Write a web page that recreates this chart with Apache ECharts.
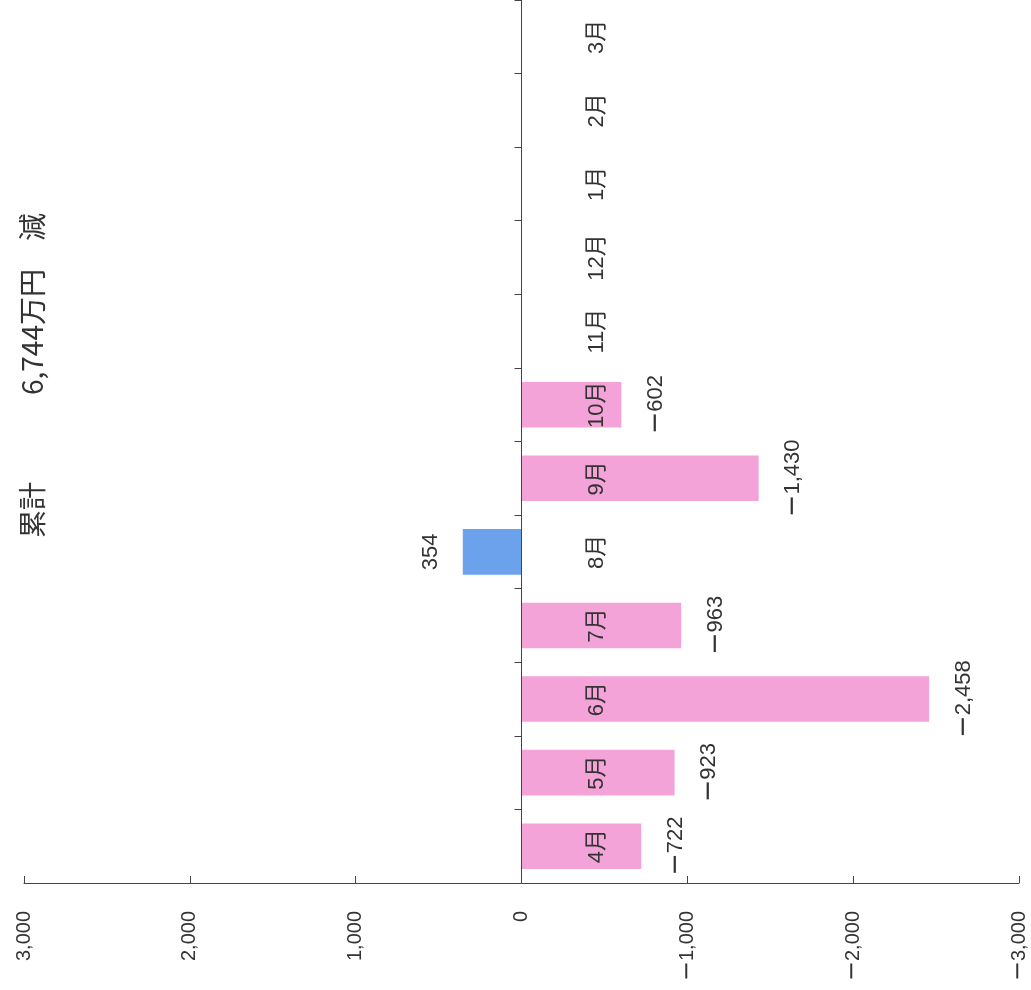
<!DOCTYPE html>
<html><head><meta charset="utf-8">
<script src="https://cdn.jsdelivr.net/npm/echarts@6/dist/echarts.min.js"></script>
<style>html,body{margin:0;padding:0;background:#fff}#c{width:1031px;height:990px}</style>
</head><body><div id="c"></div>
<script>
// ---- data ----
const months = ['4月','5月','6月','7月','8月','9月','10月','11月','12月','1月','2月','3月'];
const diffs = [-722, -923, -2458, -963, 354, -1430, -602, null, null, null, null, null];
const axisMin = -3000;
const axisMax = 3000;
const axisStep = 1000;
const totalLabel = '累計';
const totalText = '6,744万円\u3000減';

// ---- helpers ----
const FONT = "'Liberation Sans','Noto Sans CJK JP',sans-serif";
const MINUS_FONT = "'DejaVu Sans'";
const CJK = "'Noto Sans CJK JP'";
const TEXT = '#333333';
const LINE = '#444444';
const PINK = '#F3A3D7';
const BLUE = '#6CA2EC';
function fmtRich(v){
  const s = Math.abs(v).toLocaleString('en-US');
  return v < 0 ? '{m|\u2212}{n|' + s + '}' : '{n|' + s + '}';
}
function richFor(size){
  return {
    m: { fontFamily: MINUS_FONT, fontSize: Math.round(size * 1.22), color: TEXT },
    n: { fontFamily: FONT, fontSize: size, color: TEXT }
  };
}

const seriesData = diffs.map(v => v == null ? '-' : {
  value: v,
  itemStyle: { color: v < 0 ? PINK : BLUE },
  label: { position: v < 0 ? 'right' : 'left', align: 'center', verticalAlign: v < 0 ? 'top' : 'bottom' }
});

const chart = echarts.init(document.getElementById('c'), null, {renderer: 'canvas'});
chart.setOption({
  animation: false,
  backgroundColor: '#ffffff',
  grid: { left: 24, right: 12, top: 0, bottom: 107, containLabel: false, outerBoundsMode: 'none' },
  xAxis: {
    type: 'value', inverse: true, min: axisMin, max: axisMax, interval: axisStep,
    axisLine: { show: true, onZero: false, lineStyle: { color: LINE, width: 1 } },
    axisTick: { show: true, inside: true, length: 7, lineStyle: { color: LINE, width: 1 } },
    splitLine: { show: false },
    axisLabel: { rotate: 90, margin: 28, fontSize: 20, color: TEXT, fontFamily: FONT, formatter: fmtRich,
      rich: richFor(20) }
  },
  yAxis: {
    type: 'category', data: months, z: 5,
    axisLine: { show: true, onZero: true, lineStyle: { color: LINE, width: 1 } },
    axisTick: { show: true, length: 7, lineStyle: { color: LINE, width: 1 } },
    splitLine: { show: false },
    axisLabel: { inside: true, rotate: 90, margin: 562, fontSize: 22, color: TEXT, fontFamily: FONT, interval: 0 }
  },
  series: [{
    type: 'bar', data: seriesData, barWidth: '62%',
    label: { show: true, rotate: 90, distance: 21, fontSize: 22, color: TEXT, fontFamily: FONT,
      formatter: p => fmtRich(p.value),
      rich: richFor(22) }
  }],
  graphic: [
    { type: 'text', x: 18, y: 538, rotation: Math.PI / 2,
      style: { text: totalLabel, fontSize: 28, fontFamily: CJK, fill: TEXT, align: 'left', verticalAlign: 'top', textAlign: 'left', textVerticalAlign: 'top' } },
    { type: 'text', x: 18, y: 395, rotation: Math.PI / 2,
      style: { text: totalText, fontSize: 28, fontFamily: CJK, fill: TEXT, align: 'left', verticalAlign: 'top', textAlign: 'left', textVerticalAlign: 'top' } }
  ]
});
</script></body></html>
